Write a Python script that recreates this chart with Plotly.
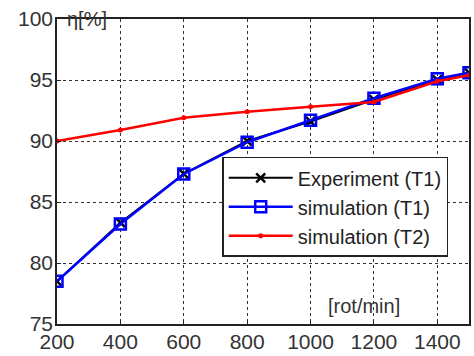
import plotly.graph_objects as go

speed = [200, 400, 600, 800, 1000, 1200, 1400, 1500]
experiment_t1 = [78.5, 83.3, 87.3, 90.0, 91.6, 93.4, 95.0, 95.6]
simulation_t1 = [78.5, 83.2, 87.3, 89.9, 91.7, 93.5, 95.1, 95.6]
simulation_t2 = [90.0, 90.9, 91.9, 92.4, 92.8, 93.2, 94.9, 95.4]

x_ticks = [200, 400, 600, 800, 1000, 1200, 1400]
y_ticks = [75, 80, 85, 90, 95, 100]

FONT = "Liberation Sans, Arial, sans-serif"

fig = go.Figure()
fig.add_trace(go.Scatter(
    x=speed, y=experiment_t1, name="Experiment (T1)", mode="lines+markers",
    line=dict(color="black", width=2),
    marker=dict(symbol="x-thin", size=9, line=dict(color="black", width=2.5)),
))
fig.add_trace(go.Scatter(
    x=speed, y=simulation_t1, name="simulation (T1)", mode="lines+markers",
    line=dict(color="#0000ff", width=2.5),
    marker=dict(symbol="square-open", size=11, color="#0000ff", line=dict(width=2.5)),
))
fig.add_trace(go.Scatter(
    x=speed, y=simulation_t2, name="simulation (T2)", mode="lines+markers",
    line=dict(color="#ff0000", width=2.5),
    marker=dict(symbol="circle", size=5, color="#ff0000"),
))

axis_common = dict(
    showline=True, linecolor="#222", linewidth=1.5, mirror=True,
    showgrid=True, gridcolor="#333", griddash="dot", gridwidth=1,
    ticks="inside", ticklen=4, tickcolor="#222",
    tickfont=dict(family=FONT, size=21, color="#333"),
    zeroline=False,
)
fig.update_xaxes(range=[200, 1500], tickvals=x_ticks, ticktext=[str(v) for v in x_ticks],
                 ticklabelstandoff=-2, **axis_common)
fig.update_yaxes(range=[75, 100], tickvals=y_ticks, ticktext=[str(v) for v in y_ticks],
                 ticklabelstandoff=-2, **axis_common)

fig.add_annotation(x=0.02, y=1.0, xref="paper", yref="paper", text="η[%]", showarrow=False,
                   xanchor="left", yanchor="middle", font=dict(family=FONT, size=20, color="#333"))
fig.add_annotation(x=0.744, y=0.06, xref="paper", yref="paper", text="[rot/min]", showarrow=False,
                   xanchor="center", yanchor="middle", font=dict(family=FONT, size=20, color="#333"))

fig.update_layout(
    width=474, height=356,
    margin=dict(l=57, r=3, t=19, b=32),
    paper_bgcolor="white", plot_bgcolor="white",
    showlegend=True,
    legend=dict(
        x=0.401, y=0.548, xanchor="left", yanchor="top",
        bgcolor="white", bordercolor="#222", borderwidth=1.5,
        font=dict(family=FONT, size=20, color="#222"),
        itemwidth=64, tracegroupgap=0,
    ),
)

fig.write_html("out.html", config={"displayModeBar": False},
               post_script="document.body.style.margin='0';document.body.style.overflow='hidden';")
